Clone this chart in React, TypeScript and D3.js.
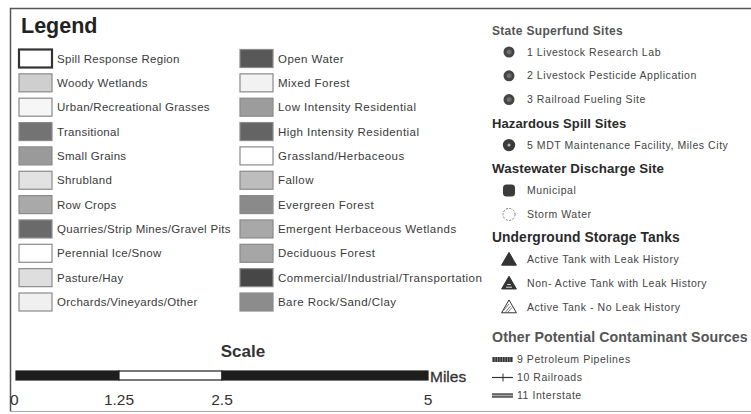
import React, { useEffect, useRef } from 'react';
import * as d3 from 'd3';

// land cover classes, two columns
const coverLeft = [
  'Spill Response Region', 'Woody Wetlands', 'Urban/Recreational Grasses', 'Transitional',
  'Small Grains', 'Shrubland', 'Row Crops', 'Quarries/Strip Mines/Gravel Pits',
  'Perennial Ice/Snow', 'Pasture/Hay', 'Orchards/Vineyards/Other',
];
const coverRight = [
  'Open Water', 'Mixed Forest', 'Low Intensity Residential', 'High Intensity Residential',
  'Grassland/Herbaceous', 'Fallow', 'Evergreen Forest', 'Emergent Herbaceous Wetlands',
  'Deciduous Forest', 'Commercial/Industrial/Transportation', 'Bare Rock/Sand/Clay',
];
const shadeLeft = ['#ffffff', '#cfcfcf', '#f6f6f6', '#737373', '#9a9a9a', '#e2e2e2', '#a9a9a9', '#6a6a6a', '#ffffff', '#dedede', '#f0f0f0'];
const shadeRight = ['#585858', '#f2f2f2', '#9c9c9c', '#646464', '#ffffff', '#bdbdbd', '#8a8a8a', '#a8a8a8', '#a6a6a6', '#474747', '#8c8c8c'];

// point / line features
const superfundSites = ['1 Livestock Research Lab', '2 Livestock Pesticide Application', '3 Railroad Fueling Site'];
const spillSites = ['5  MDT Maintenance Facility, Miles City'];
const dischargeSites = ['Municipal', 'Storm Water'];
const storageTanks = ['Active Tank with Leak History', 'Non- Active Tank with Leak History', 'Active Tank - No Leak History'];
const otherSources = ['9 Petroleum Pipelines', '10 Railroads', '11 Interstate'];

// scale bar
const scaleTicks = [0, 1.25, 2.5, 5];
const scaleSegments = [[0, 1.25], [1.25, 2.5], [2.5, 5]];

const W = 751;
const H = 414;

const App: React.FC = () => {
  const svgRef = useRef<SVGSVGElement>(null);

  useEffect(() => {
    document.body.style.margin = '0';
    if (!svgRef.current) return;
    const svg = d3.select(svgRef.current);
    svg.selectAll('*').remove();

    const font = 'Liberation Sans, Arial, sans-serif';
    const ink = '#3a3a3a';

    // frame
    svg.append('rect').attr('width', W).attr('height', H).attr('fill', '#fff');
    svg.append('path')
      .attr('d', `M${W},8.5 L10.5,8.5 L10.5,411.5`)
      .attr('fill', 'none').attr('stroke', '#555').attr('stroke-width', 1.5);
    svg.append('line').attr('x1', 10.5).attr('x2', W).attr('y1', 411.5).attr('y2', 411.5)
      .attr('stroke', '#aaa').attr('stroke-width', 1.2);

    svg.append('text').text('Legend')
      .attr('x', 21).attr('y', 33)
      .attr('font-family', font).attr('font-weight', 'bold').attr('font-size', 21.5)
      .attr('fill', '#222');

    const rowY = d3.scalePoint<number>().domain(d3.range(11)).range([58.5, 302]);

    const drawColumn = (names: string[], shades: string[], x0: number, spacing: number) => {
      const g = svg.append('g');
      const rows = g.selectAll('g.row').data(names).enter().append('g')
        .attr('transform', (_, i) => `translate(${x0},${rowY(i)})`);
      rows.append('rect')
        .attr('x', 0).attr('y', -9).attr('width', 33).attr('height', 18)
        .attr('fill', (_, i) => shades[i])
        .attr('stroke', (_, i) => (names[i] === 'Spill Response Region' ? '#333' : '#8a8a8a'))
        .attr('stroke-width', (_, i) => (names[i] === 'Spill Response Region' ? 2.2 : 1.2));
      rows.append('text').text(d => d)
        .attr('x', 38).attr('y', 4)
        .attr('font-family', font).attr('font-size', 11.5).attr('fill', ink)
        .attr('letter-spacing', spacing);
    };
    drawColumn(coverLeft, shadeLeft, 19, 0.3);
    drawColumn(coverRight, shadeRight, 240, 0.45);

    // scale bar
    svg.append('text').text('Scale')
      .attr('x', 243).attr('y', 357).attr('text-anchor', 'middle')
      .attr('font-family', font).attr('font-weight', 'bold').attr('font-size', 17).attr('fill', '#333');

    const sx = d3.scaleLinear().domain([0, 5]).range([16, 428]);
    svg.append('g').selectAll('rect').data(scaleSegments).enter().append('rect')
      .attr('x', d => sx(d[0])).attr('y', 371)
      .attr('width', d => sx(d[1]) - sx(d[0])).attr('height', 9)
      .attr('fill', (_, i) => (i === 1 ? '#fff' : '#1e1e1e'))
      .attr('stroke', '#1e1e1e').attr('stroke-width', 1.2);
    svg.append('text').text('Miles')
      .attr('x', 430).attr('y', 382)
      .attr('font-family', font).attr('font-size', 15.5).attr('fill', '#333')
      .attr('stroke', '#333').attr('stroke-width', 0.3);
    svg.append('g').selectAll('text').data(scaleTicks).enter().append('text')
      .text(d => String(d))
      .attr('x', d => sx(d)).attr('y', 405)
      .attr('text-anchor', (d, i) => (i === 0 ? 'start' : 'middle'))
      .attr('dx', (d, i) => (i === 0 ? -6 : 0))
      .attr('font-family', font).attr('font-size', 15.5).attr('fill', '#333');

    // right-hand point legend
    type Entry = { kind: 'header' | 'item'; label: string; sym?: string; idx?: number; y?: number };
    const groups: [string, string[], string, number][] = [
      ['State Superfund Sites', superfundSites, 'superfund', 12],
      ['Hazardous Spill Sites', spillSites, 'spill', 13],
      ['Wastewater Discharge Site', dischargeSites, 'discharge', 13.3],
      ['Underground Storage Tanks', storageTanks, 'tank', 13.8],
      ['Other Potential Contaminant Sources', otherSources, 'line', 14.2],
    ];
    const entries: Entry[] = [];
    let y = 30;
    groups.forEach(([title, items, sym], gi) => {
      if (gi > 0) y += gi === 4 ? 30 : 23.5;
      entries.push({ kind: 'header', label: title, y, idx: gi });
      items.forEach((label, i) => {
        y += gi === 4 ? (i === 0 ? 22 : 18) : (i === 0 ? 22 : 23.8);
        entries.push({ kind: 'item', label, sym, idx: i, y });
      });
    });

    const right = svg.append('g');
    right.selectAll('text.h').data(entries.filter(e => e.kind === 'header')).enter().append('text')
      .text(d => d.label)
      .attr('x', 492).attr('y', d => (d.y as number) + 4.5)
      .attr('font-family', font).attr('font-weight', 'bold')
      .attr('font-size', d => groups[d.idx as number][3])
      .attr('letter-spacing', d => (d.idx === 0 ? 0.3 : 0.1))
      .attr('fill', d => (d.idx === 0 || d.idx === 4 ? '#555' : '#2a2a2a'));

    const items = entries.filter(e => e.kind === 'item');
    right.selectAll('text.i').data(items).enter().append('text')
      .text(d => d.label)
      .attr('x', d => (d.sym === 'line' ? 517 : 527)).attr('y', d => (d.y as number) + 3.5)
      .attr('font-family', font).attr('font-size', 10.5)
      .attr('fill', '#444').attr('letter-spacing', 0.55);

    items.forEach(d => {
      const cy = d.y as number;
      const g = right.append('g').attr('transform', `translate(509,${cy})`);
      if (d.sym === 'superfund') {
        g.append('circle').attr('r', 5.5).attr('fill', '#444');
        g.append('circle').attr('r', 2.5).attr('fill', '#6e6e6e');
      } else if (d.sym === 'spill') {
        g.append('circle').attr('r', 6.2).attr('fill', '#3a3a3a');
        g.append('circle').attr('r', 1.5).attr('fill', '#bbb');
      } else if (d.sym === 'discharge') {
        if (d.idx === 0) {
          g.append('rect').attr('x', -6).attr('y', -6).attr('width', 12).attr('height', 12)
            .attr('rx', 3.5).attr('fill', '#3c3c3c');
        } else {
          g.append('circle').attr('r', 6).attr('fill', 'none')
            .attr('stroke', '#777').attr('stroke-width', 1).attr('stroke-dasharray', '2,1.5');
        }
      } else if (d.sym === 'tank') {
        const tri = d3.symbol().type(d3.symbolTriangle).size(95);
        g.append('path').attr('d', tri() as string).attr('transform', 'translate(0,1)')
          .attr('fill', d.idx === 2 ? '#fff' : '#333')
          .attr('stroke', '#333').attr('stroke-width', 1);
        if (d.idx === 1) {
          g.append('path').attr('d', 'M-3,3.5 L3,3.5 M-1.8,0.8 L1.8,0.8')
            .attr('stroke', '#ddd').attr('stroke-width', 1);
        }
        if (d.idx === 2) {
          g.append('path').attr('d', 'M-3.5,4.5 L1.5,-1.5 M-1,4.5 L3,0 M-5,2.5 L0,-3.5')
            .attr('stroke', '#555').attr('stroke-width', 0.8);
        }
      } else if (d.sym === 'line') {
        const x1 = -17;
        const x2 = 4;
        if (d.idx === 0) {
          g.append('line').attr('x1', x1).attr('x2', x2).attr('stroke', '#333').attr('stroke-width', 5);
          g.append('line').attr('x1', x1).attr('x2', x2).attr('stroke', '#888')
            .attr('stroke-width', 5).attr('stroke-dasharray', '1,1.5');
        } else if (d.idx === 1) {
          g.append('line').attr('x1', x1).attr('x2', x2).attr('stroke', '#333').attr('stroke-width', 1.2);
          g.append('line').attr('x1', -6).attr('x2', -6).attr('y1', -4).attr('y2', 4)
            .attr('stroke', '#333').attr('stroke-width', 1);
        } else {
          g.append('line').attr('x1', x1).attr('x2', x2).attr('stroke', '#555').attr('stroke-width', 4.5);
          g.append('line').attr('x1', x1).attr('x2', x2).attr('stroke', '#aaa').attr('stroke-width', 1.3);
        }
      }
    });
  }, []);

  return <svg ref={svgRef} width={W} height={H} style={{ display: 'block' }} />;
};

export default App;
